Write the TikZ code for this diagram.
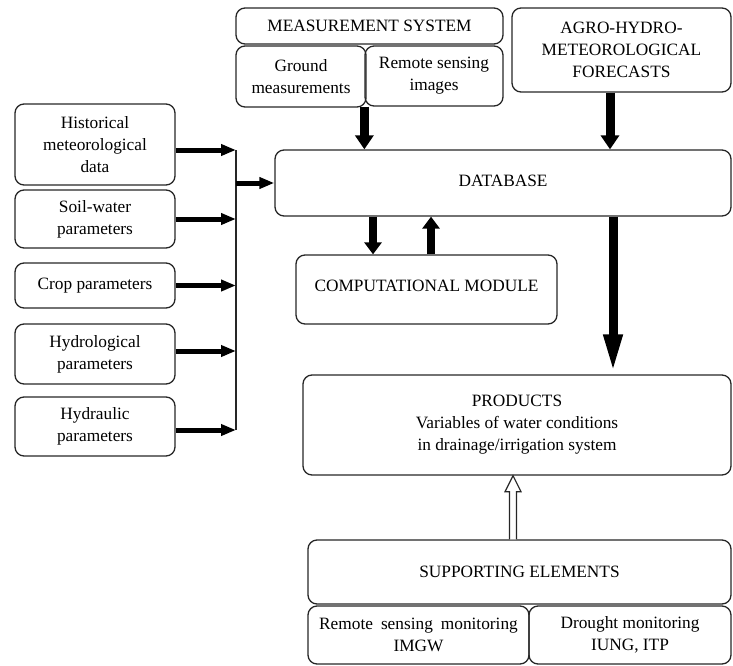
\documentclass[tikz,border=0pt]{standalone}
\usepackage{fontspec}
\setmainfont{Liberation Serif}
\usetikzlibrary{arrows.meta,calc}
\newcommand{\fsz}{\fontsize{17.3}{22}\selectfont}
\begin{document}
\begin{tikzpicture}[x=1pt,y=-1pt,
  box/.style={draw=black!85, line width=1.3pt, rounded corners=9pt, align=center, inner sep=0pt, font=\fsz},
  arrL/.style={line width=5pt, -{Triangle[length=15pt,width=11pt]}},
  arrM/.style={line width=9pt, -{Triangle[length=14pt,width=18pt]}},
  arrC/.style={line width=8pt, -{Triangle[length=12pt,width=17pt]}},
  arrB/.style={line width=9pt, -{Triangle[length=40pt,width=17pt]}},
  busline/.style={line width=1.3pt, draw=black!85},
  hollow/.style={line width=1.2pt, draw=black!85, fill=white, line join=miter}
]
\useasboundingbox (0,0) rectangle (733,666);

% top
\node[box, minimum width=267, minimum height=36] (meas) at (369.5,26) {MEASUREMENT SYSTEM};
\node[box, minimum width=130, minimum height=61] (ground) at (301,76.5) {Ground\\measurements};
\node[box, minimum width=138, minimum height=60] (rsi) at (434,76) {Remote sensing\\images};
\node[box, minimum width=219, minimum height=84] (agro) at (621.5,50) {AGRO-HYDRO-\\METEOROLOGICAL\\FORECASTS};

% database
\node[box, minimum width=456, minimum height=66] (db) at (503,183) {\raisebox{5pt}{DATABASE}};

% left inputs
\node[box, minimum width=160, minimum height=81] (hist) at (95,144.5) {Historical\\meteorological\\data};
\node[box, minimum width=160, minimum height=58] (soil) at (95,219) {Soil-water\\parameters};
\node[box, minimum width=160, minimum height=45] (crop) at (95,285.5) {Crop parameters};
\node[box, minimum width=160, minimum height=60] (hydro) at (95,354) {Hydrological\\parameters};
\node[box, minimum width=160, minimum height=59] (hydra) at (95,426.5) {Hydraulic\\parameters};

% computational module
\node[box, minimum width=261, minimum height=69] (comp) at (426.5,289.5) {\raisebox{7pt}{COMPUTATIONAL MODULE}};

% products
\node[box, minimum width=428, minimum height=100] (prod) at (517,425) {PRODUCTS\\Variables of water conditions\\in drainage/irrigation system};

% supporting
\node[box, minimum width=423, minimum height=64] (sup) at (519.5,572) {SUPPORTING ELEMENTS};
\node[box, minimum width=221, minimum height=58] (rsm) at (418.5,635) {Remote\hspace{8pt}sensing\hspace{8pt}monitoring\\IMGW};
\node[box, minimum width=202, minimum height=58] (dm) at (630,635) {Drought monitoring\\IUNG, ITP};

% bus
\coordinate (busT) at (236,150);
\coordinate (busB) at (236,430);
\draw[busline] (busT) -- (busB);
\draw[arrL] ([yshift=-5.5pt]hist.east) -- ([yshift=-5.5pt]hist.east -| busT);
\draw[arrL] (soil.east) -- (soil.east -| busT);
\draw[arrL] (crop.east) -- (crop.east -| busT);
\draw[arrL] ([yshift=3pt]hydro.east) -- ([yshift=3pt]hydro.east -| busT);
\draw[arrL] ([yshift=-3.5pt]hydra.east) -- ([yshift=-3.5pt]hydra.east -| busT);
\draw[arrL] (db.west -| busT) -- (db.west);

% top arrows
\draw[arrM] (rsi.south west) -- (rsi.south west |- db.north);
\draw[arrM] ([xshift=-11.5pt]agro.south) -- ([xshift=-11.5pt]agro.south |- db.north);

% database <-> computational
\draw[arrC] ([xshift=-53.5pt]comp.north |- db.south) -- ([xshift=-53.5pt]comp.north);
\draw[arrC] ([xshift=4.5pt]comp.north) -- ([xshift=4.5pt]comp.north |- db.south);

% database -> products
\draw[arrB] ([xshift=110pt]db.south) -- ([xshift=110pt]db.south |- prod.north);

% supporting -> products (hollow)
\coordinate (oa) at ([xshift=-6.5pt]sup.north);
\coordinate (ob) at (oa |- prod.south);
\draw[hollow] ([xshift=-3.5pt]oa) -- ([xshift=-3.5pt,yshift=-16pt]ob) -- ([xshift=-8pt,yshift=-16pt]ob) -- (ob) -- ([xshift=8pt,yshift=-16pt]ob) -- ([xshift=3.5pt,yshift=-16pt]ob) -- ([xshift=3.5pt]oa);
\end{tikzpicture}
\end{document}
